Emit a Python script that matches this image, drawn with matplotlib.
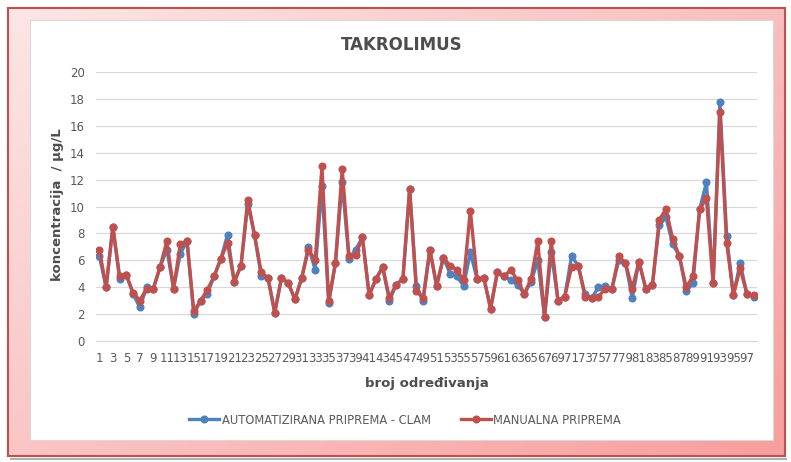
import numpy as np
import matplotlib
matplotlib.use("Agg")
import matplotlib.pyplot as plt
from matplotlib.patches import Rectangle
from matplotlib.lines import Line2D

plt.rcParams['font.family'] = ['Liberation Sans Narrow', 'DejaVu Sans']

title = "TAKROLIMUS"
ylabel = "koncentracija  / µg/L"
xlabel = "broj određivanja"
series_names = ["AUTOMATIZIRANA PRIPREMA - CLAM", "MANUALNA PRIPREMA"]

automat = [6.3, 4.0, 8.5, 4.6, 4.9, 3.5, 2.5, 4.0, 3.9, 5.5,
           6.8, 3.9, 6.5, 7.4, 2.0, 3.0, 3.5, 4.8, 6.1, 7.9,
           4.4, 5.6, 10.2, 7.9, 4.8, 4.7, 2.1, 4.7, 4.3, 3.1,
           4.7, 7.0, 5.3, 11.5, 2.8, 5.8, 11.8, 6.1, 6.8, 7.7,
           3.4, 4.6, 5.5, 3.0, 4.2, 4.6, 11.3, 4.1, 3.0, 6.8,
           4.1, 6.2, 5.0, 4.8, 4.1, 6.6, 4.6, 4.7, 2.4, 5.1,
           4.8, 4.5, 4.2, 3.5, 4.4, 6.0, 1.8, 6.6, 3.0, 3.3,
           6.3, 5.6, 3.5, 3.2, 4.0, 4.1, 3.9, 6.0, 5.8, 3.2,
           5.9, 3.9, 4.2, 8.6, 9.2, 7.2, 6.3, 3.7, 4.3, 9.8,
           11.8, 4.3, 17.8, 7.8, 3.4, 5.8, 3.5, 3.3]

manual = [6.8, 4.0, 8.5, 4.8, 4.9, 3.6, 3.0, 3.9, 3.9, 5.5,
          7.4, 3.9, 7.2, 7.4, 2.2, 3.0, 3.8, 4.8, 6.1, 7.3,
          4.4, 5.6, 10.5, 7.9, 5.1, 4.7, 2.1, 4.7, 4.3, 3.1,
          4.7, 6.8, 6.0, 13.0, 3.0, 5.8, 12.8, 6.3, 6.4, 7.7,
          3.4, 4.6, 5.5, 3.2, 4.2, 4.6, 11.3, 3.7, 3.2, 6.8,
          4.1, 6.2, 5.6, 5.3, 4.5, 9.7, 4.6, 4.7, 2.4, 5.1,
          4.8, 5.3, 4.5, 3.5, 4.6, 7.4, 1.8, 7.4, 3.0, 3.3,
          5.5, 5.6, 3.3, 3.2, 3.3, 3.9, 3.9, 6.3, 5.8, 3.9,
          5.9, 3.9, 4.2, 9.0, 9.8, 7.6, 6.3, 4.0, 4.8, 9.8,
          10.6, 4.3, 17.0, 7.3, 3.4, 5.4, 3.5, 3.4]

x = np.arange(1, len(manual) + 1)
xtick_labels = [str(i) for i in range(1, len(manual) + 1, 2)]
yticks = list(range(0, 21, 2))

W, H = 791, 462
fig = plt.figure(figsize=(W / 100, H / 100), dpi=100)
fig.patch.set_facecolor('white')

# background frame
bg = fig.add_axes([0, 0, 1, 1])
bg.set_xlim(0, W)
bg.set_ylim(H, 0)
bg.axis('off')
gx = np.linspace(0, 1, 200)
gy = np.linspace(0, 1, 120)
GX, GY = np.meshgrid(gx, gy)
t = np.clip(0.55 * GX + 0.45 * GY, 0, 1)
c0 = np.array([0.99, 0.90, 0.90])
c1 = np.array([0.97, 0.62, 0.62])
img = c0[None, None, :] * (1 - t[..., None]) + c1[None, None, :] * t[..., None]
bg.imshow(img, extent=[8, 785, 456, 8], aspect='auto', zorder=0)
bg.add_patch(Rectangle((10, 458), 777, 2, facecolor='#b0b0b0', edgecolor='none', zorder=0.5))
bg.add_patch(Rectangle((8, 8), 777, 448, facecolor='none', edgecolor='#c0504d', lw=1.5, zorder=1))
bg.add_patch(Rectangle((30, 20), 743, 420, facecolor='white', edgecolor='#d9d9d9', lw=0.8, zorder=2))

# plot axes
left, right, top, bottom = 96, 757, 72, 341
ax = fig.add_axes([left / W, 1 - bottom / H, (right - left) / W, (bottom - top) / H])
ax.set_facecolor('none')
ax.plot(x, automat, color='#4F81BD', lw=2.4, marker='o', ms=4.8, zorder=3)
ax.plot(x, manual, color='#C0504D', lw=2.4, marker='o', ms=4.8, zorder=4)
ax.set_xlim(0.5, len(manual) + 0.5)
ax.set_ylim(0, 20)
ax.set_yticks(yticks)
ax.set_xticks(range(1, len(manual) + 1, 2))
ax.set_xticklabels(xtick_labels)
ax.grid(axis='y', color='#d9d9d9', lw=0.9)
ax.set_axisbelow(True)
for s in ['top', 'right', 'left']:
    ax.spines[s].set_visible(False)
ax.spines['bottom'].set_color('#d9d9d9')
ax.tick_params(axis='both', length=0, colors='#595959', labelsize=8.5)
ax.tick_params(axis='x', pad=8)
ax.tick_params(axis='y', pad=8)

fig.text(402 / W, 1 - 45 / H, title, ha='center', va='center', fontsize=12,
         fontweight='bold', color='#4d4d4d')
fig.text(58 / W, 1 - 205 / H, ylabel, ha='center', va='center', rotation=90,
         fontsize=9.5, fontweight='bold', color='#4d4d4d')
fig.text(427 / W, 1 - 383 / H, xlabel, ha='center', va='center', fontsize=9.5,
         fontweight='bold', color='#4d4d4d')

handles = [Line2D([], [], color='#4F81BD', lw=2.4, marker='o', ms=4.8),
           Line2D([], [], color='#C0504D', lw=2.4, marker='o', ms=4.8)]
leg = fig.legend(handles, series_names, loc='center', bbox_to_anchor=(405 / W, 1 - 420 / H),
                 ncol=2, frameon=False, fontsize=8.3, handlelength=2.6, columnspacing=2.6,
                 handletextpad=0.2)
for txt in leg.get_texts():
    txt.set_color('#595959')

fig.savefig('out.png', dpi=100)
